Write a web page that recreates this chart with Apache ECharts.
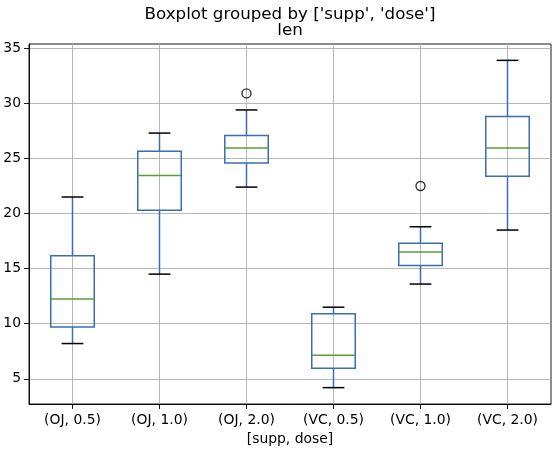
<!DOCTYPE html>
<html><head><meta charset="utf-8">
<script src="https://cdn.jsdelivr.net/npm/echarts@6/dist/echarts.min.js"></script>
<style>html,body{margin:0;padding:0;background:#fff}#c{width:557px;height:456px}</style>
</head><body><div id="c"></div>
<script>
const categories = ['(OJ, 0.5)', '(OJ, 1.0)', '(OJ, 2.0)', '(VC, 0.5)', '(VC, 1.0)', '(VC, 2.0)'];
const whiskerLow = [8.2, 14.5, 22.4, 4.2, 13.6, 18.5];
const q1 = [9.7, 20.3, 24.575, 5.95, 15.275, 23.375];
const median = [12.25, 23.45, 25.95, 7.15, 16.5, 25.95];
const q3 = [16.175, 25.65, 27.075, 10.9, 17.3, 28.8];
const whiskerHigh = [21.5, 27.3, 29.4, 11.5, 18.8, 33.9];
const outliers = [[2, 30.9], [4, 22.5]];
const yTicks = [5, 10, 15, 20, 25, 30, 35];

const boxData = categories.map((c, i) => [i, whiskerLow[i], q1[i], median[i], q3[i], whiskerHigh[i]]);
const BLUE = '#3a6db3', GREEN = '#5a9e3a', FONT = 'DejaVu Sans';

const chart = echarts.init(document.getElementById('c'), null, {renderer: 'canvas'});
chart.setOption({
  animation: false,
  title: [
    {text: "Boxplot grouped by ['supp', 'dose']", left: 290, textAlign: 'center', top: 6, padding: 0,
     textStyle: {fontFamily: FONT, fontSize: 16.7, fontWeight: 'normal', color: '#000'}},
    {text: 'len', left: 290, textAlign: 'center', top: 22, padding: 0,
     textStyle: {fontFamily: FONT, fontSize: 16.7, fontWeight: 'normal', color: '#000'}}
  ],
  grid: {left: 29, right: 6, top: 44, bottom: 52, show: true, borderColor: '#000', borderWidth: 0.9, backgroundColor: 'transparent'},
  xAxis: {
    type: 'category', data: categories, boundaryGap: true,
    name: '[supp, dose]', nameLocation: 'middle', nameGap: 28,
    nameTextStyle: {fontFamily: FONT, fontSize: 13.9, color: '#000'},
    axisLine: {show: true, lineStyle: {color: '#000', width: 0.9}},
    axisTick: {show: true, alignWithLabel: true, length: 5, lineStyle: {color: '#000', width: 0.9}},
    axisLabel: {fontFamily: FONT, fontSize: 13.9, color: '#000', margin: 9, interval: 0},
    splitLine: {show: true, alignWithLabel: true, lineStyle: {color: '#b0b0b0', width: 0.9}}
  },
  yAxis: {
    type: 'value', min: 2.715, max: 35.385, interval: 5,
    axisLine: {show: true, lineStyle: {color: '#000', width: 0.9}},
    axisTick: {show: true, length: 5, customValues: yTicks, lineStyle: {color: '#000', width: 0.9}},
    axisLabel: {fontFamily: FONT, fontSize: 13.9, color: '#000', margin: 8, customValues: yTicks},
    splitLine: {show: true, customValues: yTicks, lineStyle: {color: '#b0b0b0', width: 0.9}}
  },
  series: [
    {
      type: 'custom', data: boxData, z: 3,
      encode: {x: 0, y: [1, 2, 3, 4, 5]},
      renderItem: function (params, api) {
        const x = api.value(0);
        const bw = api.size([1, 0])[0] * 0.5;
        const pLow = api.coord([x, api.value(1)]);
        const pQ1 = api.coord([x, api.value(2)]);
        const pMed = api.coord([x, api.value(3)]);
        const pQ3 = api.coord([x, api.value(4)]);
        const pHigh = api.coord([x, api.value(5)]);
        const cx = pQ1[0];
        const lw = 1.5;
        return {type: 'group', children: [
          {type: 'line', shape: {x1: cx, y1: pQ1[1], x2: cx, y2: pLow[1]}, style: {stroke: BLUE, lineWidth: lw}},
          {type: 'line', shape: {x1: cx, y1: pQ3[1], x2: cx, y2: pHigh[1]}, style: {stroke: BLUE, lineWidth: lw}},
          {type: 'line', shape: {x1: cx - bw / 4, y1: pLow[1], x2: cx + bw / 4, y2: pLow[1]}, style: {stroke: '#000', lineWidth: lw}},
          {type: 'line', shape: {x1: cx - bw / 4, y1: pHigh[1], x2: cx + bw / 4, y2: pHigh[1]}, style: {stroke: '#000', lineWidth: lw}},
          {type: 'rect', shape: {x: cx - bw / 2, y: pQ3[1], width: bw, height: pQ1[1] - pQ3[1]}, style: {fill: 'none', stroke: BLUE, lineWidth: lw}},
          {type: 'line', shape: {x1: cx - bw / 2, y1: pMed[1], x2: cx + bw / 2, y2: pMed[1]}, style: {stroke: GREEN, lineWidth: lw}}
        ]};
      }
    },
    {
      type: 'scatter', data: outliers, symbol: 'circle', symbolSize: 9, z: 4,
      itemStyle: {color: 'rgba(0,0,0,0)', borderColor: '#000', borderWidth: 1.4}
    }
  ]
});
</script></body></html>
